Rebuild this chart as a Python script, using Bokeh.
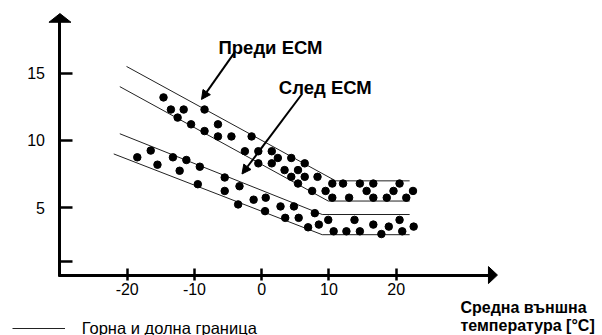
from bokeh.plotting import figure
from bokeh.models import (FixedTicker, Label, Arrow, NormalHead, Legend, LegendItem, Range1d)
from bokeh.embed import file_html
from bokeh.resources import INLINE

# ---------------- data ----------------
before_x = [-14.6, -13.5, -11.6, -8.5, -12.5, -10.5, -6.5, -8.5, -6.5, -4.5, -1.5, -2.5, -0.5, 1.5,
            2.4, 4.4, -0.5, 1.5, 6.4, 3.4, 5.4, 4.4, 6.4, 8.3, 5.4, 7.5, 9.5, 10.5, 12.1, 14.6,
            16.6, 20.5, 10.5, 13.0, 15.6, 16.6, 18.6, 19.6, 21.5, 22.5]
before_y = [13.2, 12.3, 12.3, 12.3, 11.7, 11.2, 11.2, 10.7, 10.3, 10.3, 10.3, 9.2, 9.2, 9.2,
            8.7, 8.7, 8.3, 8.3, 8.3, 7.8, 7.8, 7.3, 7.3, 7.3, 6.8, 6.25, 6.25, 6.8, 6.8, 6.8,
            6.8, 6.8, 5.75, 5.75, 6.25, 5.75, 5.75, 6.25, 5.75, 6.25]

after_x = [-18.5, -16.5, -15.5, -13.2, -11.2, -12.2, -9.2, -9.5, -5.5, -3.3, -5.5, -3.5, -1.2,
           0.6, 0.5, 2.8, 4.8, 3.5, 5.5, 7.9, 6.9, 8.5, 9.9, 10.7, 12.6, 13.8, 14.6, 16.6,
           17.8, 18.9, 20.5, 20.9, 22.6]
after_y = [8.75, 9.25, 8.2, 8.75, 8.55, 7.75, 8.05, 6.75, 7.25, 6.6, 6.25, 5.25, 5.6, 5.75,
           4.75, 5.1, 5.1, 4.25, 4.25, 4.6, 3.55, 3.75, 4.1, 3.25, 3.25, 4.1, 3.25, 3.75,
           3.05, 3.6, 4.1, 3.25, 3.6]

before_upper_x = [-20.1, 11.0, 22.0]
before_upper_y = [15.5, 7.0, 7.0]
before_lower_x = [-21.1, 9.9, 22.0]
before_lower_y = [14.0, 5.5, 5.5]
after_upper_x = [-21.1, 9.0, 22.0]
after_upper_y = [10.5, 4.5, 4.5]
after_lower_x = [-22.0, 9.0, 22.0]
after_lower_y = [9.0, 3.0, 3.0]

x_ticks = [-20, -10, 0, 10, 20]
x_tick_labels = ["-20", "-10", "0", "10", "20"]
y_ticks = [1, 5, 10, 15]
y_tick_labels = ["", "5", "10", "15"]

label_before = "Преди ЕСМ"
label_after = "След ЕСМ"
x_title_1 = "Средна външна"
x_title_2 = "температура [°C]"
legend_label = "Горна и долна граница"

# ---------------- figure ----------------
W, H = 602, 335
X0, X1 = -38.84, 50.68
Y0, Y1 = -4.49, 20.40
sx = W / (X1 - X0)   # px per x unit
sy = H / (Y1 - Y0)   # px per y unit

FONT = "Liberation Sans"

p = figure(width=W, height=H, output_backend="svg", toolbar_location=None,
           x_range=Range1d(X0, X1), y_range=Range1d(Y0, Y1),
           min_border=0, min_border_left=0, min_border_right=0,
           min_border_top=0, min_border_bottom=0)
p.xgrid.visible = False
p.ygrid.visible = False
p.outline_line_color = None
p.background_fill_color = "white"
p.border_fill_color = "white"

AX_X = -30.0
AX_Y = 0.0
Y_TIP = 19.43
X_TIP = 35.06

xa = p.xaxis[0]
xa.fixed_location = AX_Y
xa.bounds = (AX_X - 1.5 / sx, X_TIP - 8.0 / sx)
xa.ticker = FixedTicker(ticks=x_ticks)
xa.major_label_overrides = {t: l for t, l in zip(x_ticks, x_tick_labels)}
xa.axis_line_width = 3
xa.axis_line_color = "black"
xa.major_tick_line_width = 2.5
xa.major_tick_line_color = "black"
xa.major_tick_in = 7
xa.major_tick_out = 5
xa.minor_tick_line_color = None
xa.major_label_text_font = FONT
xa.major_label_text_font_size = "16px"
xa.major_label_text_color = "black"
xa.major_label_standoff = 3

ya = p.yaxis[0]
ya.fixed_location = AX_X
ya.bounds = (AX_Y - 1.5 / sy, Y_TIP - 8.0 / sy)
ya.ticker = FixedTicker(ticks=y_ticks)
ya.major_label_overrides = {t: l for t, l in zip(y_ticks, y_tick_labels)}
ya.axis_line_width = 3
ya.axis_line_color = "black"
ya.major_tick_line_width = 2.5
ya.major_tick_line_color = "black"
ya.major_tick_in = 13
ya.major_tick_out = 0
ya.minor_tick_line_color = None
ya.major_label_text_font = FONT
ya.major_label_text_font_size = "16px"
ya.major_label_text_color = "black"
ya.major_label_standoff = 15

# axis arrow heads
p.patch([AX_X - 11 / sx, AX_X, AX_X + 11 / sx],
        [Y_TIP - 8.7 / sy, Y_TIP, Y_TIP - 8.7 / sy],
        color="black", line_width=1)
p.patch([X_TIP - 9 / sx, X_TIP, X_TIP - 9 / sx],
        [AX_Y + 8.5 / sy, AX_Y, AX_Y - 8.5 / sy],
        color="black", line_width=1)

# boundary lines
line_kw = dict(line_color="#222222", line_width=1)
r_bu = p.line(before_upper_x, before_upper_y, **line_kw)
p.line(before_lower_x, before_lower_y, **line_kw)
p.line(after_upper_x, after_upper_y, **line_kw)
p.line(after_lower_x, after_lower_y, **line_kw)

# points
p.scatter(before_x, before_y, size=7.5, color="black")
p.scatter(after_x, after_y, size=7.5, color="black")

# annotation arrows
p.add_layout(Arrow(end=NormalHead(size=9, fill_color="black", line_color="black"),
                   x_start=-4.0, y_start=16.56, x_end=-8.95, y_end=13.05,
                   line_width=2, line_color="black"))
p.add_layout(Arrow(end=NormalHead(size=9, fill_color="black", line_color="black"),
                   x_start=6.02, y_start=13.47, x_end=-2.93, y_end=7.51,
                   line_width=2, line_color="black"))

p.add_layout(Label(x=1.31, y=16.93, text=label_before, text_align="center",
                   text_baseline="alphabetic", text_font=FONT, text_font_style="bold",
                   text_font_size="18.5px", text_color="black"))
p.add_layout(Label(x=9.46, y=13.92, text=label_after, text_align="center",
                   text_baseline="alphabetic", text_font=FONT, text_font_style="bold",
                   text_font_size="18.5px", text_color="black"))

# x axis title (two lines)
p.add_layout(Label(x=29.56, y=-2.385, text=x_title_1, text_align="left",
                   text_baseline="alphabetic", text_font=FONT, text_font_style="bold",
                   text_font_size="16px", text_color="black"))
p.add_layout(Label(x=29.56, y=-3.74, text=x_title_2, text_align="left",
                   text_baseline="alphabetic", text_font=FONT, text_font_style="bold",
                   text_font_size="16px", text_color="black"))

# legend
legend = Legend(items=[LegendItem(label=legend_label, renderers=[r_bu])],
                location=(11.7, -3), glyph_width=53, glyph_height=20,
                label_height=20, label_standoff=17, padding=0, margin=0, spacing=0,
                border_line_color=None, background_fill_alpha=0,
                label_text_font=FONT, label_text_font_size="16.5px",
                label_text_color="black")
p.add_layout(legend, "center")

open("out.html", "w").write(file_html(p, INLINE))
